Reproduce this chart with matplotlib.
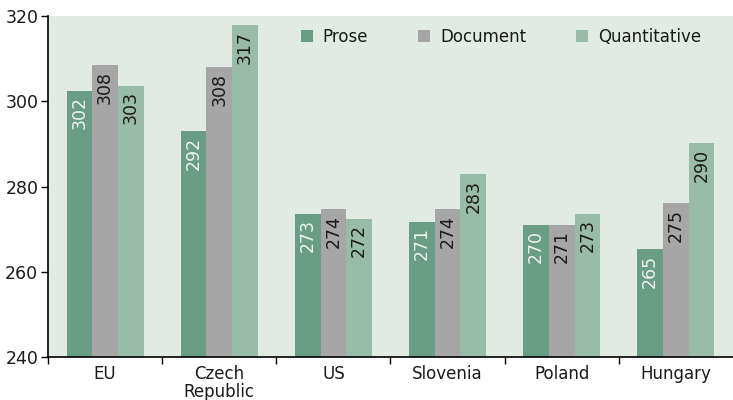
import matplotlib
matplotlib.use("Agg")
import matplotlib.pyplot as plt
import numpy as np

categories = ["EU", "Czech\nRepublic", "US", "Slovenia", "Poland", "Hungary"]
series_names = ["Prose", "Document", "Quantitative"]
prose = [302.5, 293.0, 273.6, 271.7, 271.0, 265.3]
document = [308.5, 308.0, 274.7, 274.7, 271.0, 276.1]
quantitative = [303.6, 317.9, 272.4, 282.9, 273.6, 290.2]
prose_labels = ["302", "292", "273", "271", "270", "265"]
document_labels = ["308", "308", "274", "274", "271", "275"]
quantitative_labels = ["303", "317", "272", "283", "273", "290"]
yticks = [240, 260, 280, 300, 320]

colors = ["#6a9d85", "#a6a6a6", "#99bca9"]
label_colors = ["#eef4f0", "#1a1a1a", "#1a1a1a"]
bg = "#e1ebe4"

plt.rcParams['font.family'] = ['DejaVu Sans']

fig = plt.figure(figsize=(7.33, 4.0), dpi=100)
ax = fig.add_axes([48/733, 43/400, 685/733, 341/400])
ax.set_facecolor(bg)

x = np.arange(len(categories))
w = 0.225
all_vals = [prose, document, quantitative]
all_labels = [prose_labels, document_labels, quantitative_labels]
for i, (vals, labs) in enumerate(zip(all_vals, all_labels)):
    xs = x + (i - 1) * w
    ax.bar(xs, np.array(vals) - 240, bottom=240, width=w, color=colors[i],
           label=series_names[i], zorder=2)
    for xi, v, lab in zip(xs, vals, labs):
        ax.annotate(lab, (xi, v), xytext=(0, -4), textcoords="offset points",
                    rotation=90, ha="center", va="top", fontsize=12.5,
                    color=label_colors[i], zorder=3)

ax.set_xlim(-0.5, len(categories) - 0.5)
ax.set_ylim(240, 320)
ax.set_yticks(yticks)
ax.set_yticklabels([str(t) for t in yticks], fontsize=12.5, color="#1a1a1a")
ax.set_xticks(x)
ax.set_xticklabels(categories, fontsize=12, color="#1a1a1a", linespacing=0.95)
ax.tick_params(axis="x", which="major", length=0, pad=6)
ax.set_xticks(np.arange(-0.5, len(categories) - 0.5, 1.0), minor=True)
ax.tick_params(axis="x", which="minor", length=5, width=1, color="black", direction="out")
ax.tick_params(axis="y", length=5, width=1, color="black", direction="out", pad=2)

for s in ["top", "right"]:
    ax.spines[s].set_visible(False)
for s in ["left", "bottom"]:
    ax.spines[s].set_color("black")
    ax.spines[s].set_linewidth(1.2)

leg = ax.legend(loc="upper right", bbox_to_anchor=(0.975, 1.01), ncol=3, frameon=False,
                fontsize=12, handlelength=0.7, handleheight=0.7, handletextpad=0.6,
                columnspacing=3.0)
for t in leg.get_texts():
    t.set_color("#1a1a1a")

fig.savefig("out.png", dpi=100)
